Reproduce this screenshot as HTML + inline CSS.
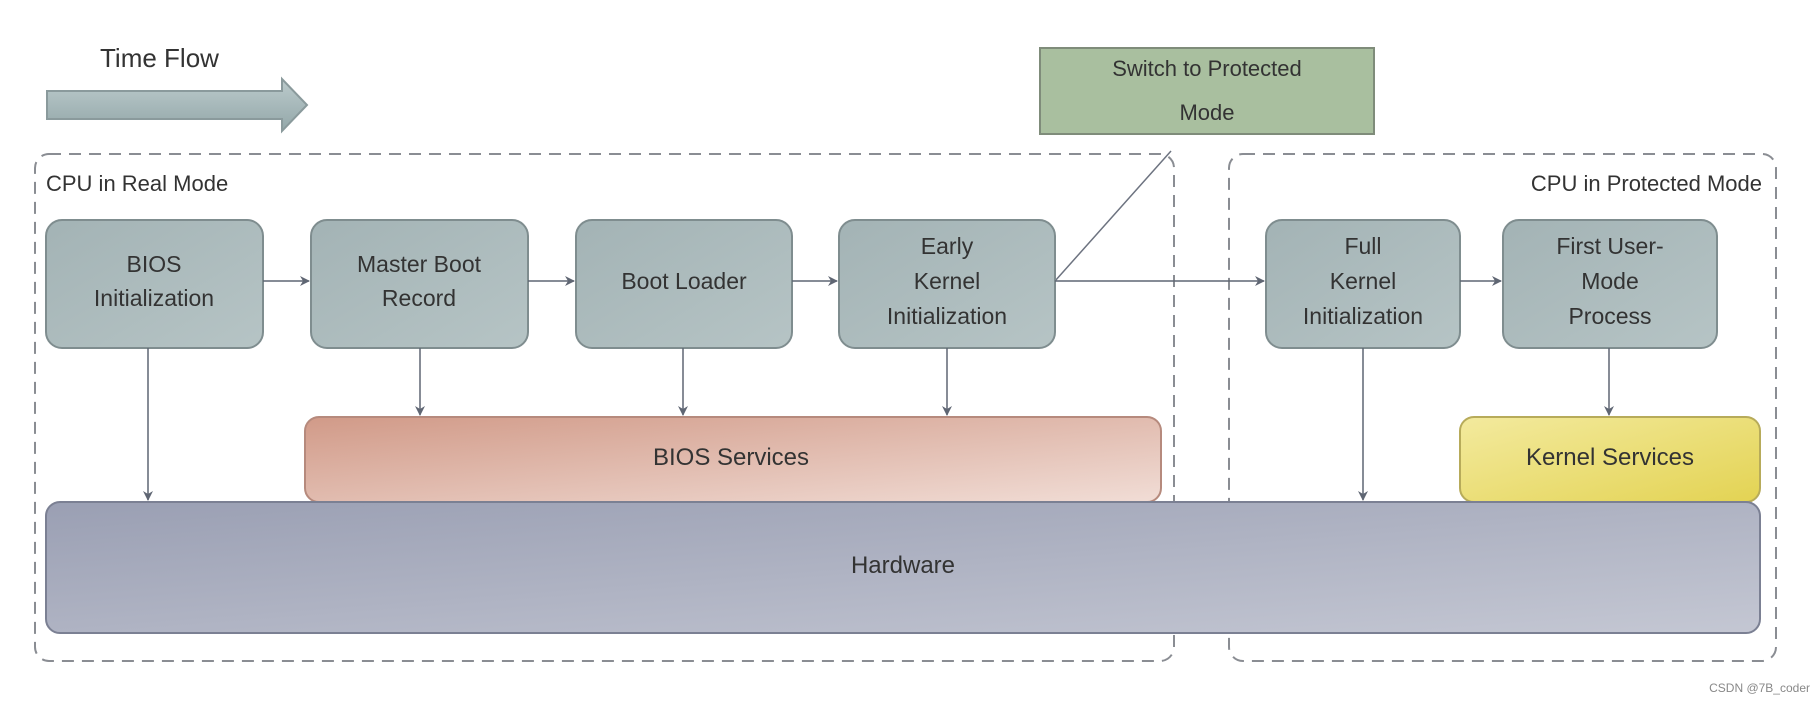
<!DOCTYPE html>
<html><head><meta charset="utf-8"><style>
html,body{margin:0;padding:0;background:#fff;}
svg{display:block;font-family:"Liberation Sans","DejaVu Sans",sans-serif;}
</style></head><body>
<svg width="1818" height="704" viewBox="0 0 1818 704" xmlns="http://www.w3.org/2000/svg">
<defs>
<linearGradient id="gb" x1="0" y1="0" x2="1" y2="1"><stop offset="0" stop-color="#a3b3b5"/><stop offset="1" stop-color="#b6c4c5"/></linearGradient>
<linearGradient id="gr" x1="0" y1="0" x2="1" y2="1"><stop offset="0" stop-color="#d19a88"/><stop offset="1" stop-color="#f1ddd6"/></linearGradient>
<linearGradient id="gy" x1="0" y1="0" x2="1" y2="1"><stop offset="0" stop-color="#f3ea9e"/><stop offset="1" stop-color="#e3d353"/></linearGradient>
<linearGradient id="gh" x1="0" y1="0" x2="1" y2="1"><stop offset="0" stop-color="#9a9fb3"/><stop offset="1" stop-color="#c4c7d3"/></linearGradient>
<linearGradient id="ga" x1="0" y1="0" x2="0" y2="1"><stop offset="0" stop-color="#bccbcc"/><stop offset="1" stop-color="#93a7a9"/></linearGradient>
<marker id="ar" markerWidth="10" markerHeight="10" refX="9" refY="5" orient="auto" markerUnits="userSpaceOnUse"><path d="M0,0 L10,5 L0,10 L3,5 Z" fill="#5f6673"/></marker>
</defs>
<!-- Time flow -->
<text x="100" y="67" font-size="26" fill="#333">Time Flow</text>
<path d="M47,91 L282,91 L282,79 L307,105 L282,131 L282,119 L47,119 Z" fill="url(#ga)" stroke="#8a9a9c" stroke-width="2"/>
<!-- dashed regions -->
<rect x="35" y="154" width="1139" height="507" rx="14" fill="none" stroke="#8a8d93" stroke-width="2" stroke-dasharray="12,8"/>
<rect x="1229" y="154" width="547" height="507" rx="14" fill="none" stroke="#8a8d93" stroke-width="2" stroke-dasharray="12,8"/>
<text x="46" y="191" font-size="22" fill="#333">CPU in Real Mode</text>
<text x="1762" y="191" font-size="22" fill="#333" text-anchor="end">CPU in Protected Mode</text>
<!-- switch box -->
<rect x="1040" y="48" width="334" height="86" fill="#a9bf9f" stroke="#7f8c7a" stroke-width="2"/>
<text x="1207" y="76" font-size="22" fill="#333" text-anchor="middle">Switch to Protected</text>
<text x="1207" y="120" font-size="22" fill="#333" text-anchor="middle">Mode</text>
<line x1="1055" y1="281" x2="1171" y2="151" stroke="#6d7380" stroke-width="1.5"/>
<!-- services & hardware -->
<rect x="305" y="417" width="856" height="85" rx="14" fill="url(#gr)" stroke="#b68a7d" stroke-width="2"/>
<text x="731" y="465" font-size="24" fill="#333" text-anchor="middle">BIOS Services</text>
<rect x="1460" y="417" width="300" height="85" rx="14" fill="url(#gy)" stroke="#b7ab5a" stroke-width="2"/>
<text x="1610" y="465" font-size="24" fill="#333" text-anchor="middle">Kernel Services</text>
<rect x="46" y="502" width="1714" height="131" rx="14" fill="url(#gh)" stroke="#7b8093" stroke-width="2"/>
<text x="903" y="573" font-size="24" fill="#333" text-anchor="middle">Hardware</text>
<!-- process boxes -->
<g fill="url(#gb)" stroke="#7f8d8f" stroke-width="2">
<rect x="46" y="220" width="217" height="128" rx="16"/>
<rect x="311" y="220" width="217" height="128" rx="16"/>
<rect x="576" y="220" width="216" height="128" rx="16"/>
<rect x="839" y="220" width="216" height="128" rx="16"/>
<rect x="1266" y="220" width="194" height="128" rx="16"/>
<rect x="1503" y="220" width="214" height="128" rx="16"/>
</g>
<g font-size="23" fill="#333" text-anchor="middle">
<text x="154" y="272">BIOS</text><text x="154" y="306">Initialization</text>
<text x="419" y="272">Master Boot</text><text x="419" y="306">Record</text>
<text x="684" y="289">Boot Loader</text>
<text x="947" y="254">Early</text><text x="947" y="289">Kernel</text><text x="947" y="324">Initialization</text>
<text x="1363" y="254">Full</text><text x="1363" y="289">Kernel</text><text x="1363" y="324">Initialization</text>
<text x="1610" y="254">First User-</text><text x="1610" y="289">Mode</text><text x="1610" y="324">Process</text>
</g>
<!-- arrows -->
<g stroke="#5f6673" stroke-width="1.5" marker-end="url(#ar)">
<line x1="263" y1="281" x2="309" y2="281"/>
<line x1="528" y1="281" x2="574" y2="281"/>
<line x1="792" y1="281" x2="837" y2="281"/>
<line x1="1055" y1="281" x2="1264" y2="281"/>
<line x1="1460" y1="281" x2="1501" y2="281"/>
<line x1="148" y1="348" x2="148" y2="500"/>
<line x1="420" y1="348" x2="420" y2="415"/>
<line x1="683" y1="348" x2="683" y2="415"/>
<line x1="947" y1="348" x2="947" y2="415"/>
<line x1="1363" y1="348" x2="1363" y2="500"/>
<line x1="1609" y1="348" x2="1609" y2="415"/>
</g>
<text x="1810" y="692" font-size="12" fill="#888" text-anchor="end">CSDN @7B_coder</text>
</svg>
</body></html>
